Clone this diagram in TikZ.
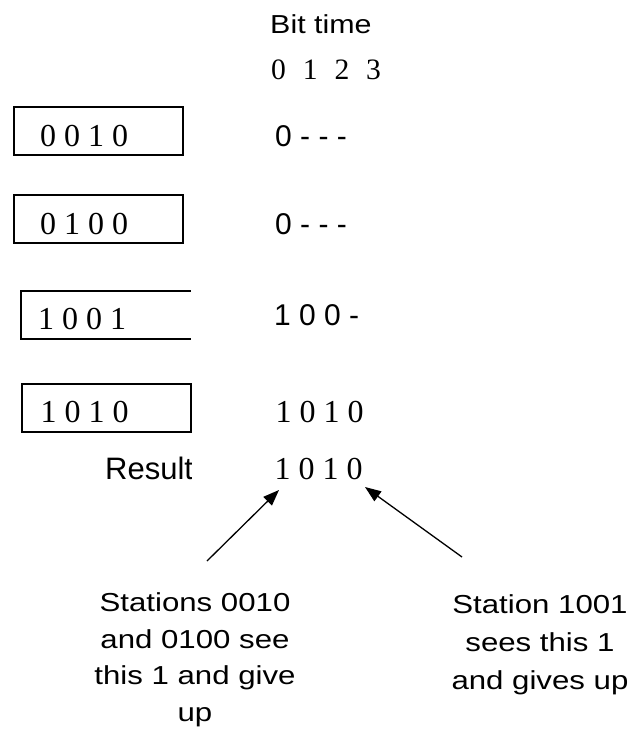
\documentclass[tikz,border=0pt]{standalone}
\usepackage{fontspec}
\setmainfont{Liberation Serif}
\newfontfamily\arialfont{Liberation Sans}
\usetikzlibrary{arrows.meta}

\begin{document}
\begin{tikzpicture}[
    x=1pt, y=-1pt,
    stationbox/.style={minimum width=169pt, minimum height=48pt, inner sep=0pt},
    bits/.style={anchor=base west, inner sep=0pt, font=\fontsize{32}{38}\selectfont},
    sansbits/.style={anchor=base west, inner sep=0pt, font=\arialfont\fontsize{30}{34}\selectfont},
    note/.style={anchor=base, inner sep=0pt, align=center, xscale=1.2},
    arrow/.style={-{Triangle[length=16pt, width=12pt]}, line width=1.3pt},
]
\useasboundingbox (0,0) rectangle (634,729);

% Header
\node[anchor=base west, inner sep=0pt, xscale=1.17, font=\arialfont\fontsize{26}{30}\selectfont] (title) at (270,33) {Bit time};
\node[anchor=base west, inner sep=0pt, font=\fontsize{29.6}{34}\selectfont] (ticks) at (271,79) {0\hspace{0.57em}1\hspace{0.57em}2\hspace{0.57em}3};

% Station 0010
\node[stationbox, draw, line width=2pt] (st1) at (98.5,131) {};
\node[bits] (st1bits) at (40,146) {0 0 1 0};
\node[sansbits] (out1) at (275,146) {0 - - -};

% Station 0100
\node[stationbox, draw, line width=2pt] (st2) at (98.5,219) {};
\node[bits] (st2bits) at (40,234) {0 1 0 0};
\node[sansbits] (out2) at (275,234) {0 - - -};

% Station 1001 (box open on the right)
\node[stationbox] (st3) at (106,315) {};
\draw[line width=2pt] (st3.north east) -- (st3.north west) -- (st3.south west) -- (st3.south east);
\node[bits] (st3bits) at (38,329) {1 0 0 1};
\node[sansbits] (out3) at (274,325) {1 0 0 -};

% Station 1010
\node[stationbox, draw, line width=2pt] (st4) at (106,408) {};
\node[bits] (st4bits) at (40.5,422) {1 0 1 0};
\node[bits] (out4) at (275.5,422) {1 0 1 0};

% Result
\begin{scope}
  \clip (0,440) rectangle (191,500);
  \node[anchor=base west, inner sep=0pt, font=\arialfont\fontsize{31}{36}\selectfont] (reslabel) at (105,479) {Result};
\end{scope}
\node[bits] (result) at (274.5,479) {1 0 1 0};

% Notes (base = last line)
\node[note, font=\arialfont\fontsize{26}{36.5}\selectfont] (noteA) at (195,721) {Stations 0010\\and 0100 see\\this 1 and give\\up};
\node[note, font=\arialfont\fontsize{26}{38}\selectfont] (noteB) at (540,689) {Station 1001\\sees this 1\\and gives up};

% Arrows
\coordinate (tailA) at (207,561);
\coordinate (tipA) at (279,490);
\coordinate (tailB) at (462,557);
\coordinate (tipB) at (365,487);
\draw[arrow] (tailA) -- (tipA);
\draw[arrow] (tailB) -- (tipB);

\end{tikzpicture}
\end{document}
